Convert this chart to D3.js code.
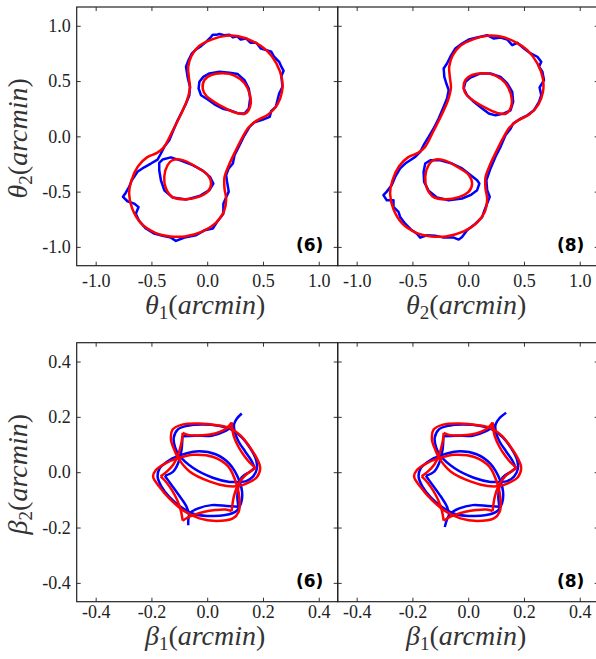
<!DOCTYPE html>
<html>
<head>
<meta charset="utf-8">
<script src="https://cdn.jsdelivr.net/npm/d3@7"></script>
<style>
  body { margin: 0; background: #fff; }
  svg { display: block; }
</style>
</head>
<body>
<svg width="596" height="659"></svg>
<script>
// tick values
const thetaTicks = [-1.0, -0.5, 0.0, 0.5, 1.0];
const betaTicks = [-0.4, -0.2, 0.0, 0.2, 0.4];

// critical curves, model (red), same in both top panels
const redOuter = [[0.05,0.88],[0.17,0.91],[0.28,0.905],[0.41,0.86],[0.53,0.78],[0.62,0.66],[0.67,0.52],[0.67,0.40],[0.63,0.29],[0.55,0.20],[0.44,0.14],[0.37,0.08],[0.31,-0.02],[0.25,-0.14],[0.19,-0.27],[0.155,-0.37],[0.155,-0.47],[0.17,-0.57],[0.15,-0.68],[0.08,-0.78],[-0.04,-0.86],[-0.20,-0.905],[-0.33,-0.905],[-0.47,-0.87],[-0.59,-0.79],[-0.67,-0.66],[-0.70,-0.52],[-0.68,-0.40],[-0.62,-0.27],[-0.54,-0.19],[-0.45,-0.15],[-0.39,-0.10],[-0.32,0.03],[-0.24,0.19],[-0.18,0.33],[-0.155,0.44],[-0.165,0.54],[-0.17,0.63],[-0.14,0.73],[-0.07,0.82]];
const redUpper = [[-0.04,0.43],[-0.025,0.51],[0.035,0.555],[0.14,0.57],[0.245,0.55],[0.335,0.48],[0.385,0.37],[0.385,0.27],[0.34,0.205],[0.265,0.21],[0.17,0.25],[0.065,0.31],[-0.01,0.37]];
const redLower = [[-0.31,-0.215],[-0.22,-0.215],[-0.10,-0.275],[0.005,-0.35],[0.035,-0.43],[0.005,-0.50],[-0.085,-0.55],[-0.205,-0.57],[-0.31,-0.55],[-0.37,-0.47],[-0.385,-0.365],[-0.355,-0.26]];

// critical curves, reconstruction (blue), panel (6)
const blueOuter6 = [[0.05,0.92],[0.08,0.918],[0.11,0.925],[0.15,0.915],[0.20,0.92],[0.23,0.895],[0.27,0.905],[0.30,0.876],[0.35,0.885],[0.39,0.846],[0.44,0.846],[0.48,0.795],[0.53,0.78],[0.575,0.765],[0.60,0.72],[0.645,0.674],[0.665,0.63],[0.685,0.593],[0.665,0.545],[0.675,0.448],[0.645,0.388],[0.63,0.327],[0.615,0.267],[0.575,0.23],[0.56,0.176],[0.50,0.152],[0.424,0.128],[0.38,0.086],[0.334,0.01],[0.29,-0.08],[0.245,-0.17],[0.23,-0.246],[0.193,-0.29],[0.17,-0.35],[0.178,-0.41],[0.193,-0.50],[0.17,-0.55],[0.145,-0.61],[0.145,-0.70],[0.095,-0.765],[0.05,-0.834],[-0.025,-0.85],[-0.10,-0.895],[-0.205,-0.915],[-0.28,-0.946],[-0.325,-0.916],[-0.40,-0.90],[-0.475,-0.88],[-0.55,-0.834],[-0.61,-0.765],[-0.64,-0.70],[-0.615,-0.64],[-0.655,-0.608],[-0.715,-0.587],[-0.755,-0.547],[-0.73,-0.51],[-0.70,-0.457],[-0.676,-0.397],[-0.625,-0.32],[-0.565,-0.28],[-0.505,-0.246],[-0.445,-0.21],[-0.415,-0.155],[-0.385,-0.095],[-0.34,-0.035],[-0.31,0.04],[-0.265,0.146],[-0.226,0.222],[-0.19,0.297],[-0.16,0.372],[-0.154,0.448],[-0.175,0.532],[-0.19,0.63],[-0.167,0.69],[-0.137,0.75],[-0.10,0.786],[-0.055,0.816],[-0.01,0.855],[0.035,0.90]];
const blueUpper6 = [[-0.077,0.433],[-0.07,0.493],[-0.035,0.538],[0.02,0.569],[0.11,0.584],[0.20,0.575],[0.274,0.563],[0.334,0.508],[0.373,0.433],[0.385,0.342],[0.373,0.252],[0.334,0.207],[0.274,0.21],[0.20,0.236],[0.14,0.25],[0.065,0.29],[0.005,0.333],[-0.055,0.372]];
const blueLower6 = [[-0.43,-0.24],[-0.40,-0.21],[-0.325,-0.19],[-0.235,-0.22],[-0.13,-0.26],[-0.04,-0.31],[0.025,-0.367],[0.055,-0.427],[0.02,-0.487],[-0.07,-0.54],[-0.19,-0.572],[-0.31,-0.553],[-0.385,-0.487],[-0.415,-0.397],[-0.43,-0.306]];

// critical curves, reconstruction (blue), panel (8)
const blueOuter8 = [[0.08,0.894],[0.17,0.915],[0.23,0.885],[0.29,0.894],[0.35,0.876],[0.395,0.825],[0.44,0.846],[0.50,0.795],[0.56,0.75],[0.62,0.72],[0.655,0.674],[0.635,0.63],[0.665,0.584],[0.68,0.508],[0.64,0.442],[0.655,0.372],[0.635,0.312],[0.59,0.236],[0.53,0.19],[0.47,0.16],[0.403,0.116],[0.38,0.07],[0.334,0.01],[0.29,-0.095],[0.245,-0.185],[0.20,-0.29],[0.163,-0.397],[0.17,-0.487],[0.193,-0.547],[0.17,-0.608],[0.146,-0.668],[0.125,-0.73],[0.065,-0.79],[-0.01,-0.85],[-0.055,-0.91],[-0.085,-0.934],[-0.13,-0.916],[-0.22,-0.916],[-0.295,-0.898],[-0.37,-0.895],[-0.43,-0.916],[-0.46,-0.88],[-0.505,-0.85],[-0.565,-0.79],[-0.61,-0.73],[-0.625,-0.683],[-0.67,-0.638],[-0.67,-0.578],[-0.73,-0.578],[-0.76,-0.532],[-0.73,-0.50],[-0.685,-0.44],[-0.655,-0.367],[-0.61,-0.29],[-0.565,-0.246],[-0.52,-0.216],[-0.475,-0.186],[-0.43,-0.14],[-0.40,-0.08],[-0.355,-0.005],[-0.31,0.071],[-0.265,0.161],[-0.22,0.267],[-0.19,0.342],[-0.175,0.418],[-0.196,0.478],[-0.214,0.538],[-0.22,0.614],[-0.19,0.659],[-0.16,0.72],[-0.115,0.795],[-0.055,0.84],[0.005,0.876]];
const blueUpper8 = [[-0.04,0.433],[-0.025,0.493],[0.02,0.532],[0.11,0.569],[0.20,0.569],[0.29,0.538],[0.35,0.478],[0.395,0.402],[0.403,0.312],[0.38,0.236],[0.32,0.207],[0.245,0.19],[0.185,0.207],[0.125,0.252],[0.05,0.312],[-0.01,0.372]];
const blueLower8 = [[-0.385,-0.246],[-0.34,-0.216],[-0.25,-0.216],[-0.145,-0.246],[-0.055,-0.29],[0.02,-0.35],[0.08,-0.397],[0.10,-0.427],[0.08,-0.487],[0.02,-0.532],[-0.055,-0.562],[-0.175,-0.578],[-0.28,-0.553],[-0.355,-0.493],[-0.395,-0.412],[-0.40,-0.321]];

// caustics, model (red)
const redCausticUpper = [[-0.104,0.051],[-0.118,0.081],[-0.13,0.118],[-0.124,0.154],[-0.09,0.172],[-0.03,0.176],[0.035,0.17],[0.08,0.16],[0.12,0.132],[0.15,0.095],[0.178,0.05],[0.19,0.015],[0.178,-0.018],[0.142,-0.04],[0.112,-0.05],[0.07,-0.05],[0.01,-0.034],[-0.062,0.002]];
const redCausticLower = [[-0.104,0.051],[-0.05,0.063],[0.022,0.055],[0.076,0.02],[0.106,-0.046],[0.116,-0.1],[0.113,-0.143],[0.092,-0.167],[0.032,-0.176],[-0.028,-0.167],[-0.088,-0.137],[-0.136,-0.095],[-0.172,-0.052],[-0.194,-0.016],[-0.184,0.008],[-0.148,0.033]];
const redStarSides = [
  [[0.088,0.18],[0.09,0.155],[0.096,0.128],[0.112,0.092],[0.132,0.06],[0.152,0.035],[0.174,0.015]],
  [[0.174,0.015],[0.15,0.0],[0.124,-0.025],[0.106,-0.055],[0.095,-0.09],[0.09,-0.12],[0.088,-0.14]],
  [[0.088,-0.14],[0.065,-0.135],[0.03,-0.137],[-0.01,-0.143],[-0.05,-0.155],[-0.072,-0.165],[-0.088,-0.175]],
  [[-0.088,-0.175],[-0.092,-0.15],[-0.1,-0.12],[-0.115,-0.085],[-0.135,-0.052],[-0.152,-0.03],[-0.167,-0.015]],
  [[-0.167,-0.015],[-0.145,0.002],[-0.122,0.027],[-0.105,0.06],[-0.095,0.095],[-0.09,0.12],[-0.088,0.142]],
  [[-0.088,0.142],[-0.065,0.134],[-0.03,0.133],[0.01,0.136],[0.045,0.146],[0.07,0.16],[0.088,0.18]]
];

// caustics, reconstruction (blue)
const blueCausticUpper = [[-0.1,0.06],[-0.115,0.09],[-0.12,0.125],[-0.105,0.155],[-0.07,0.168],[-0.02,0.172],[0.04,0.168],[0.085,0.155],[0.125,0.125],[0.155,0.085],[0.175,0.045],[0.178,0.012],[0.165,-0.015],[0.14,-0.032],[0.115,-0.035],[0.08,-0.035],[0.02,-0.02],[-0.05,0.015]];
const blueCausticLower = [[-0.1,0.06],[-0.04,0.075],[0.03,0.065],[0.08,0.03],[0.115,-0.03],[0.125,-0.07],[0.122,-0.11],[0.105,-0.14],[0.065,-0.155],[0.0,-0.158],[-0.05,-0.15],[-0.095,-0.125],[-0.135,-0.09],[-0.165,-0.05],[-0.178,-0.015],[-0.17,0.015],[-0.148,0.035],[-0.125,0.05]];
const blueStarSides6 = [
  [[0.124,0.212],[0.106,0.193],[0.096,0.172],[0.1,0.142],[0.112,0.112],[0.136,0.075],[0.16,0.039],[0.17,0.015]],
  [[0.17,0.015],[0.154,0.002],[0.124,-0.018],[0.112,-0.052],[0.108,-0.088],[0.112,-0.125]],
  [[0.112,-0.125],[0.07,-0.122],[0.016,-0.119],[-0.032,-0.131],[-0.062,-0.149],[-0.068,-0.192]],
  [[-0.065,-0.155],[-0.074,-0.125],[-0.098,-0.088],[-0.128,-0.046],[-0.152,-0.013]],
  [[-0.152,-0.013],[-0.122,0.002],[-0.104,0.033],[-0.092,0.081],[-0.089,0.13]],
  [[-0.089,0.13],[-0.044,0.132],[0.016,0.132],[0.064,0.148],[0.096,0.172]]
];
const blueStarSides8 = [
  [[0.136,0.215],[0.112,0.195],[0.098,0.172],[0.1,0.142],[0.112,0.112],[0.136,0.075],[0.16,0.039],[0.17,0.015]],
  [[0.17,0.015],[0.154,0.002],[0.124,-0.018],[0.112,-0.052],[0.108,-0.088],[0.112,-0.125]],
  [[0.112,-0.125],[0.07,-0.122],[0.016,-0.119],[-0.032,-0.131],[-0.066,-0.152],[-0.084,-0.198]],
  [[-0.068,-0.158],[-0.076,-0.125],[-0.098,-0.088],[-0.128,-0.046],[-0.152,-0.013]],
  [[-0.152,-0.013],[-0.122,0.002],[-0.104,0.033],[-0.092,0.081],[-0.089,0.13]],
  [[-0.089,0.13],[-0.044,0.132],[0.016,0.132],[0.064,0.148],[0.098,0.172]]
];

const svg = d3.select('svg');
const serif = '"Liberation Serif", "Times New Roman", serif';
const colLeft = [76.7, 337.7], panelW = 261;
const rows = [
  {top: 7, h: 258.7, lim: 1.17, ticks: thetaTicks, ylab: ['θ', '2'], xlabBase: 314, pad: 9},
  {top: 342.7, h: 259, lim: 0.468, ticks: betaTicks, ylab: ['β', '2'], xlabBase: 645, pad: 4}
];

const panels = [
  {row: 0, col: 0, tag: '(6)', xlab: ['θ', '1'], closedRed: [redOuter, redUpper, redLower], closedBlue: [blueOuter6, blueUpper6, blueLower6]},
  {row: 0, col: 1, tag: '(8)', xlab: ['θ', '2'], closedRed: [redOuter, redUpper, redLower], closedBlue: [blueOuter8, blueUpper8, blueLower8]},
  {row: 1, col: 0, tag: '(6)', xlab: ['β', '1'], closedRed: [redCausticUpper, redCausticLower], closedBlue: [blueCausticUpper, blueCausticLower], openRed: redStarSides, openBlue: blueStarSides6},
  {row: 1, col: 1, tag: '(8)', xlab: ['β', '1'], closedRed: [redCausticUpper, redCausticLower], closedBlue: [blueCausticUpper, blueCausticLower], openRed: redStarSides, openBlue: blueStarSides8}
];

function mathLabel(sel, sym, sub) {
  sel.append('tspan').style('font-style', 'italic').text(sym);
  sel.append('tspan').style('font-size', '19px').attr('dy', 5).text(sub);
  sel.append('tspan').attr('dy', -5).text('(');
  sel.append('tspan').style('font-style', 'italic').text('arcmin');
  sel.append('tspan').text(')');
}

panels.forEach(function(p, i) {
  let r = rows[p.row];
  let x0 = colLeft[p.col], y0 = r.top;
  let x = d3.scaleLinear().domain([-r.lim, r.lim]).range([0, panelW]);
  let y = d3.scaleLinear().domain([-r.lim, r.lim]).range([r.h, 0]);
  let g = svg.append('g').attr('transform', 'translate(' + x0 + ',' + y0 + ')');

  g.append('clipPath').attr('id', 'clip' + i)
    .append('rect').attr('width', panelW).attr('height', r.h);

  let fmt = function(d) { return d.toFixed(1); };
  let none = function() { return ''; };

  g.append('g').attr('transform', 'translate(0,' + r.h + ')')
    .call(d3.axisBottom(x).tickValues(r.ticks).tickSizeInner(-4).tickSizeOuter(0).tickPadding(r.pad).tickFormat(fmt));
  g.append('g')
    .call(d3.axisTop(x).tickValues(r.ticks).tickSizeInner(-4).tickSizeOuter(0).tickFormat(none));
  g.append('g')
    .call(d3.axisLeft(y).tickValues(r.ticks).tickSizeInner(-4).tickSizeOuter(0).tickPadding(6).tickFormat(p.col === 0 ? fmt : none));
  g.append('g').attr('transform', 'translate(' + panelW + ',0)')
    .call(d3.axisRight(y).tickValues(r.ticks).tickSizeInner(-4).tickSizeOuter(0).tickFormat(none));
  g.selectAll('.domain').remove();
  g.selectAll('.tick line').attr('stroke', '#333');
  g.selectAll('.tick text')
    .style('font-family', serif).style('font-size', '18px').style('fill', '#222');

  let line = d3.line().x(function(d) { return x(d[0]); }).y(function(d) { return y(d[1]); });
  let curves = g.append('g').attr('clip-path', 'url(#clip' + i + ')')
    .attr('fill', 'none').attr('stroke-width', 2.5).attr('stroke-linejoin', 'round');

  let jag = p.row === 0 ? d3.curveLinearClosed : d3.curveCatmullRomClosed;
  curves.selectAll('path.blue').data(p.closedBlue).enter().append('path')
    .attr('stroke', '#0000ff').attr('d', line.curve(jag));
  if (p.openBlue) {
    curves.selectAll('path.bopen').data(p.openBlue).enter().append('path')
      .attr('stroke', '#0000ff').attr('d', line.curve(d3.curveCatmullRom));
  }
  curves.selectAll('path.red').data(p.closedRed).enter().append('path')
    .attr('stroke', '#ff0000').attr('d', line.curve(d3.curveCatmullRomClosed));
  if (p.openRed) {
    curves.selectAll('path.ropen').data(p.openRed).enter().append('path')
      .attr('stroke', '#ff0000').attr('d', line.curve(d3.curveCatmullRom));
  }

  g.append('rect').attr('width', panelW).attr('height', r.h)
    .attr('fill', 'none').attr('stroke', '#222').attr('stroke-width', 1.2);

  g.append('text').attr('x', panelW - 14.4).attr('y', r.h - 14.7)
    .attr('text-anchor', 'end')
    .style('font-family', '"DejaVu Sans", sans-serif').style('font-weight', 'bold').style('font-size', '17px')
    .text(p.tag);

  let xl = svg.append('text')
    .attr('x', x0 + panelW / 2 - 2).attr('y', r.xlabBase)
    .attr('text-anchor', 'middle')
    .style('font-family', serif).style('font-size', '28px').style('fill', '#333');
  mathLabel(xl, p.xlab[0], p.xlab[1]);

  if (p.col === 0) {
    let cy = y0 + r.h / 2 + 2;
    let yl = svg.append('text')
      .attr('transform', 'translate(27,' + cy + ') rotate(-90)')
      .attr('text-anchor', 'middle')
      .style('font-family', serif).style('font-size', '28px').style('fill', '#333');
    mathLabel(yl, r.ylab[0], r.ylab[1]);
  }
});
</script>
</body>
</html>
